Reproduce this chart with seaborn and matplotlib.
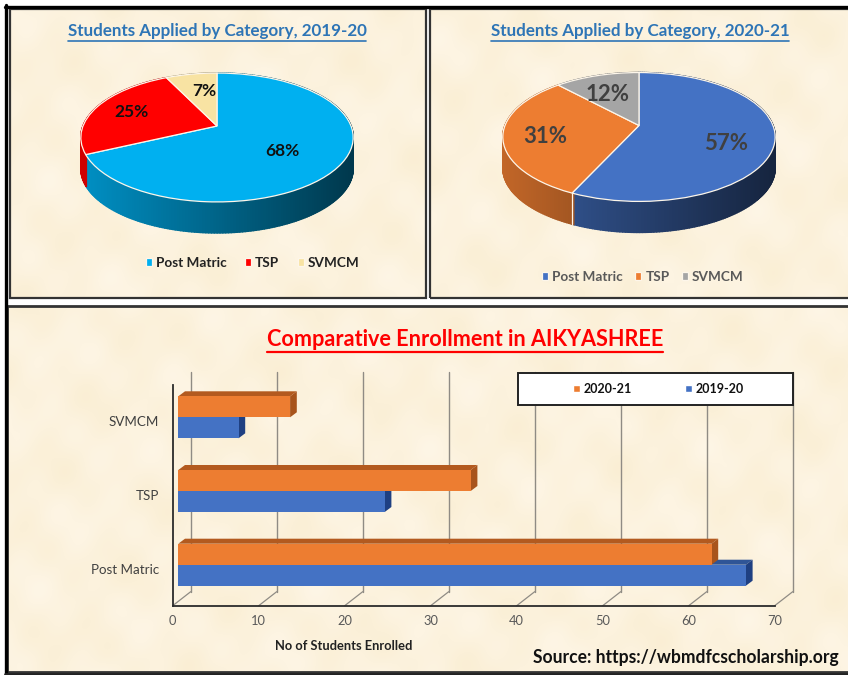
import numpy as np
import pandas as pd
import matplotlib
matplotlib.use("Agg")
import matplotlib.pyplot as plt
import matplotlib.transforms as mtrans
from matplotlib.collections import PolyCollection
from matplotlib.lines import Line2D
from matplotlib.patches import Rectangle
import seaborn as sns

categories = ["Post Matric", "TSP", "SVMCM"]
enrolled_2019 = [66, 24, 7]
enrolled_2020 = [62, 34, 13]
years = ["2020-21", "2019-20"]
bar_order = ["SVMCM", "TSP", "Post Matric"]
x_ticks = [0, 10, 20, 30, 40, 50, 60, 70]
colors_2019 = ["#00B0F0", "#FF0000", "#F8E3A3"]
colors_2020 = ["#4472C4", "#ED7D31", "#A5A5A5"]

sns.set_theme(style="white")
plt.rcParams["font.family"] = ["Lato", "DejaVu Sans"]

W, H = 848, 675
PAPER = np.array([252, 242, 221]) / 255
fig = plt.figure(figsize=(W / 100, H / 100), dpi=100, facecolor="white")


def box(x0, y0, x1, y1):
    """Figure-fraction rectangle from pixel edges (y downwards)."""
    return [x0 / W, 1 - y1 / H, (x1 - x0) / W, (y1 - y0) / H]


# parchment backdrop: a soft, smooth mottling inside the three panels
paper_ax = fig.add_axes([0, 0, 1, 1], zorder=-10)
paper_ax.set_axis_off()
yy, xx = np.mgrid[0:H, 0:W]
mottle = (np.sin(xx / 23.0 + yy / 31.0) + np.sin(xx / 11.0 - yy / 17.0 + 1.3)
          + np.sin(xx / 47.0 - yy / 13.0 + 2.1) + np.sin(xx / 7.3 + yy / 9.1 + 0.4) * 0.5)
paper = PAPER[None, None, :] + mottle[:, :, None] * np.array([0.002, 0.004, 0.010])
paper = np.clip(paper, 0, 1)
mask = np.zeros((H, W), dtype=bool)
for x0, y0, x1, y1 in [(10, 9, 425, 297), (431, 9, 848, 297), (7, 306, 848, 672)]:
    mask[y0:y1, x0:x1] = True
paper[~mask] = 1.0
paper_ax.imshow(paper, aspect="auto", interpolation="nearest")


def frame(x0, y0, x1, y1, lw=1.6, edge="#333333"):
    l, b, w, h = box(x0, y0, x1, y1)
    fig.add_artist(Rectangle((l, b), w, h, transform=fig.transFigure, facecolor="none",
                             edgecolor=edge, linewidth=lw, zorder=-5))


def hline(x0, x1, y, color, lw):
    fig.add_artist(Line2D([x0 / W, x1 / W], [1 - y / H] * 2, transform=fig.transFigure,
                          color=color, linewidth=lw, zorder=-4))


def vline(x, y0, y1, color, lw):
    fig.add_artist(Line2D([x / W] * 2, [1 - y0 / H, 1 - y1 / H], transform=fig.transFigure,
                          color=color, linewidth=lw, zorder=-4))


def underlined(x, y, s, size, color, gap=2.0, lw=1.2):
    t = fig.text(x / W, 1 - y / H, s, ha="center", va="center", fontsize=size,
                 fontweight="bold", color=color)
    bb = t.get_window_extent(fig.canvas.get_renderer())
    yy_ = bb.y0 - gap
    fig.add_artist(Line2D([bb.x0 / W, bb.x1 / W], [yy_ / H, yy_ / H], transform=fig.transFigure,
                          color=color, linewidth=lw))
    return t


frame(9.5, 8.5, 425.5, 297.5)
frame(430.5, 8.5, 860, 297.5)
frame(7, 305.5, 860, 672, lw=2.0)
hline(5, 848, 6.5, "black", 2.4)
vline(6, 5, 675, "black", 2.4)
hline(5, 848, 673.5, "#222222", 2.0)


class Tilt(mtrans.Transform):
    """Perspective view of the unit pie, in pixels about its apex."""
    input_dims = 2
    output_dims = 2
    has_inverse = False
    RX, RY, A = 134.0, 62.4, 0.178

    def transform_non_affine(self, values):
        v = np.asarray(values, dtype=float)
        w = 1 + self.A * v[:, 1]
        return np.column_stack([self.RX * v[:, 0] / w, self.RY * v[:, 1] / w])


def pie3d(panel, apex, values, colors, title, title_xy, label_xy, label_size, label_color,
          legend_xy, legend_color, legend_spacing):
    x0, y0, x1, y1 = panel
    ax = fig.add_axes(box(x0, y0, x1, y1))
    ax.patch.set_visible(False)
    wedges, _ = ax.pie(values, colors=colors, startangle=90, counterclock=False,
                       wedgeprops={"edgecolor": "#FDF6EA", "linewidth": 0.9, "zorder": 3})
    tilt = Tilt()
    depth = 31.0
    for w, c in zip(wedges, colors):
        w.set_transform(tilt + ax.transData)
        th = np.radians(np.arange(w.theta1, w.theta2 + 1.0, 1.0))
        top = tilt.transform_non_affine(np.column_stack([np.cos(th), np.sin(th)]))
        polys, cols = [], []
        base = np.array(matplotlib.colors.to_rgb(c))
        for p, q in zip(top[:-1], top[1:]):
            polys.append([p, q, q - [0, depth], p - [0, depth]])
            f = 0.82 - ((p[0] + q[0]) / 2 + 136) / 272 * 0.5
            cols.append(base * f)
        ax.add_collection(PolyCollection(polys, facecolors=cols, edgecolors=cols,
                                         linewidths=1.1, zorder=1))
        if np.sin(th[0]) < 0 and abs(np.cos(th[0])) < 0.9:
            ax.plot([top[0, 0]] * 2, [top[0, 1], top[0, 1] - depth], color="#FDF6EA",
                    lw=0.9, zorder=2)
    ax.set_aspect("auto")
    ax.set_xlim(x0 - apex[0], x1 - apex[0])
    ax.set_ylim(apex[1] - y1, apex[1] - y0)
    ax.set_frame_on(False)
    total = sum(values)
    for v, (lx, ly) in zip(values, label_xy):
        ax.text(lx - apex[0], apex[1] - ly, f"{v / total:.0%}", ha="center", va="center",
                fontsize=label_size, fontweight="bold", color=label_color, zorder=5)
    underlined(title_xy[0], title_xy[1], title, 12.25, "#2E75B6")
    ax.legend(wedges, categories, ncol=3, frameon=False, loc="center",
              bbox_to_anchor=(legend_xy[0] / W, 1 - legend_xy[1] / H),
              bbox_transform=fig.transFigure, handlelength=0.45, handleheight=0.45,
              handletextpad=0.3, columnspacing=legend_spacing, labelcolor=legend_color,
              prop={"weight": "bold", "size": 9.8})
    return ax


pie3d((10, 9, 425, 297), (217, 126), enrolled_2019, colors_2019,
      "Students Applied by Category, 2019-20", (217, 31),
      [(282.5, 151), (132, 112), (204, 91)], 12.5, "#111111",
      (252.5, 263), "#222222", 1.35)
pie3d((431, 9, 848, 297), (639, 125.5), enrolled_2020, colors_2020,
      "Students Applied by Category, 2020-21", (640, 31),
      [(726, 144), (545, 137), (608, 95)], 16, "#404040",
      (643, 277), "#595959", 0.9)

# ---- bar chart ------------------------------------------------------------
UNIT = 8.6  # pixels per student

floor = fig.add_axes(box(172.7, 385, 774.7, 605.7))
floor.patch.set_visible(False)
floor.set_xlim(0, 70)
floor.set_ylim(0, 220.7)
floor.set_xticks(x_ticks)
floor.set_yticks([])
floor.tick_params(axis="x", length=0, pad=7, labelsize=9.3, labelcolor="#595959")
for s in ("top", "right"):
    floor.spines[s].set_visible(False)
for s in ("left", "bottom"):
    floor.spines[s].set_color("#2b2b2b")
    floor.spines[s].set_linewidth(1.3)
floor.set_xlabel("No of Students Enrolled", fontsize=9.25, fontweight="bold", color="#222222")
floor.xaxis.set_label_coords((344 - 172.7) / 602, (605.7 - 646) / 220.7)
floor.xaxis.label.set_va("center")
for v in x_ticks:
    floor.plot([v, v + 18 / UNIT], [0, 14], color="#8f8b84", lw=0.9, clip_on=False)

wall = fig.add_axes(box(190.7, 371.7, 792.7, 591.7))
wall.patch.set_visible(False)
wall.set_xlim(0, 70)
wall.set_xticks(x_ticks)
wall.set_yticks([])
wall.tick_params(axis="x", length=0, labelbottom=False)
wall.grid(axis="x", color="#8f8b84", linewidth=1.0, clip_on=False)
for s in wall.spines.values():
    s.set_visible(False)

ax = fig.add_axes(box(178.3, 380.45, 780.3, 601.55))
ax.patch.set_visible(False)
df = pd.DataFrame({
    "Category": categories * 2,
    "Year": ["2019-20"] * 3 + ["2020-21"] * 3,
    "Students": enrolled_2019 + enrolled_2020,
})
sns.barplot(data=df, y="Category", x="Students", hue="Year", order=bar_order, hue_order=years,
            palette={"2020-21": "#ED7D31", "2019-20": "#4472C4"}, orient="h", width=0.57,
            saturation=1, ax=ax, zorder=3)
ax.set_xlim(0, 70)
ax.set_ylim(2.5, -0.5)
ax.set_xlabel("")
ax.set_ylabel("")
ax.set_xticks([])
for s in ax.spines.values():
    s.set_visible(False)
ax.tick_params(axis="y", length=0, pad=14, labelsize=9.6, labelcolor="#404040")
shift = mtrans.ScaledTranslation(0, -3.0 / 72, fig.dpi_scale_trans)
for lab in ax.get_yticklabels():
    lab.set_transform(lab.get_transform() + shift)

dx, dy = 6.7 / UNIT, 5 / 73.7
faces = {"#ED7D31": ("#B35A1F", "#A8541C", 4.0), "#4472C4": ("#2F5597", "#1F4082", 3.0)}
for c in ax.containers:
    for p in c:
        rgb = matplotlib.colors.to_hex(p.get_facecolor())
        top_c, side_c, z = faces[rgb.upper()]
        p.set_zorder(z + 0.5)
        p.set_linewidth(0)
        x1, yt, yb = p.get_width(), p.get_y(), p.get_y() + p.get_height()
        ax.fill([0, x1, x1 + dx, dx], [yt, yt, yt - dy, yt - dy], color=top_c, lw=0, zorder=z)
        ax.fill([x1, x1, x1 + dx, x1 + dx], [yt, yb, yb - dy, yt - dy], color=side_c, lw=0,
                zorder=z + 0.1)

l, b, w, h = box(518.3, 372.7, 792.7, 405.3)
ax.add_patch(Rectangle((l, b), w, h, transform=fig.transFigure, facecolor="white",
                       edgecolor="#222222", linewidth=1.4, clip_on=False, zorder=9))
sns.move_legend(ax, loc="center", bbox_to_anchor=(658.5 / W, 1 - 389 / H),
                bbox_transform=fig.transFigure, ncol=2, frameon=False, title=None,
                handlelength=0.55, handleheight=0.55, handletextpad=0.3, columnspacing=4.3,
                prop={"weight": "bold", "size": 9})
ax.get_legend().set_zorder(10)
for t in ax.get_legend().get_texts():
    t.set_color("#111111")

underlined(465, 339, "Comparative Enrollment in AIKYASHREE", 15.6, "#FF0000", gap=2.5, lw=1.6)
fig.text(685.5 / W, 1 - 658 / H, "Source: https://wbmdfcscholarship.org", ha="center", va="center",
         fontsize=12.65, fontweight="bold", color="#111111")

fig.savefig("out.png", dpi=100)
